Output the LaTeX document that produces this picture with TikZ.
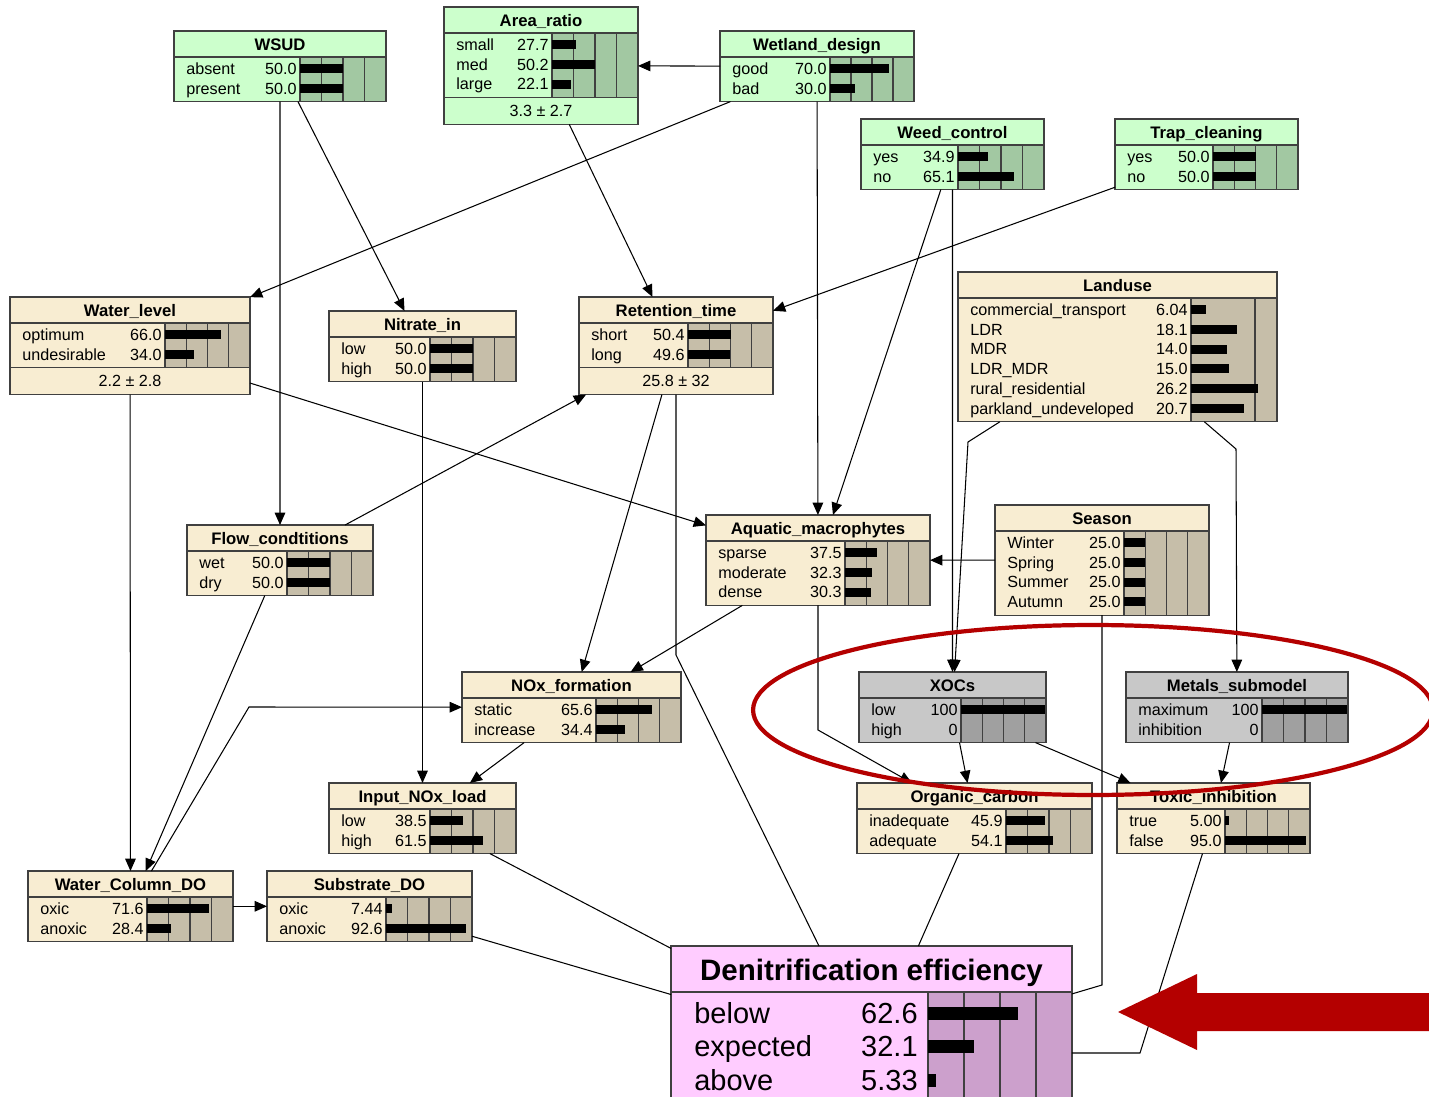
\documentclass[tikz,border=0pt]{standalone}
\usepackage{fontspec}
\setmainfont{Liberation Sans}
\usetikzlibrary{arrows.meta}

\definecolor{greenbody}{HTML}{CCFFCC}
\definecolor{greengrid}{HTML}{A2C8A2}
\definecolor{tanbody}{HTML}{F8EDD2}
\definecolor{tangrid}{HTML}{C6BEA9}
\definecolor{graybody}{HTML}{C8C8C8}
\definecolor{graygrid}{HTML}{A0A0A0}
\definecolor{pinkbody}{HTML}{FFCCFF}
\definecolor{pinkgrid}{HTML}{CCA0CC}
\definecolor{netred}{HTML}{B40000}

\def\bnfull{100}
% belief box: [mean]{name}{left}{top}{right}{bar left}{colour}{title}{states}
\newcommand{\bnbox}[9][]{%
  \foreach \sname/\sval [count=\sidx] in {#9} {\xdef\bnn{\sidx}}%
  \pgfmathsetmacro\bnsb{#4+31+\bnn*19.8}%
  \def\bnmean{#1}%
  \ifx\bnmean\empty\pgfmathsetmacro\bnbot{\bnsb}\else\pgfmathsetmacro\bnbot{\bnsb+27}\fi
  \pgfmathsetmacro\bnw{(#5-#3)*0.02}%
  \pgfmathsetmacro\bnh{(\bnbot-#4)*0.02}%
  \node[bnframe, fill=#7body, minimum width=\bnw cm, minimum height=\bnh cm] (#2) at (#3,#4) {};
  \node[bntitle] at ({(#3+#5)/2},#4+13.5) {#8};
  \fill[#7grid] (#6,#4+26) rectangle (#5,\bnsb);
  \foreach \k in {1,2,3} {%
    \pgfmathsetmacro\bnx{#6+\k*25/\bnfull*(#5-#6)}%
    \ifdim\bnx pt<#5pt \draw[bnline] (\bnx,#4+26) -- (\bnx,\bnsb);\fi
  }
  \draw[bnline] (#3,#4+26) -- (#5,#4+26) (#6,#4+26) -- (#6,\bnsb);
  \foreach \sname/\sval [count=\sidx] in {#9} {%
    \pgfmathsetmacro\bny{#4+37.5+(\sidx-1)*19.8}%
    \pgfmathsetmacro\bnbar{#6+min(\sval/\bnfull,1)*(#5-#6)}%
    \ifdim\sval pt>0pt \fill (#6,\bny-4.5) rectangle (\bnbar,\bny+4.5);\fi
    \node[bnstate, anchor=west] at (#3+12,\bny) {\sname};
    \node[bnstate, anchor=east] at (#6-3,\bny) {\sval};
  }
  \ifx\bnmean\empty\else
    \draw[bnline] (#3,\bnsb) -- (#5,\bnsb);
    \node[bnstate] at ({(#3+#5)/2},\bnsb+13.5) {#1};
  \fi
  \draw[bnline] (#2.north west) rectangle (#2.south east);
}

\begin{document}
\begin{tikzpicture}[
    x=0.02cm, y=-0.02cm,
    bnframe/.style={rectangle, draw=black!75, line width=0.7pt, anchor=north west, inner sep=0pt, outer sep=0pt},
    bnline/.style={draw=black!75, line width=0.7pt},
    bntitle/.style={font=\fontsize{9.5}{11}\selectfont\bfseries, inner sep=0pt, text height=6.8pt, text depth=0pt},
    bnstate/.style={font=\fontsize{9.2}{11}\selectfont, inner sep=0pt, text height=6.6pt, text depth=0pt},
    bigtitle/.style={font=\fontsize{16.8}{19}\selectfont\bfseries, inner sep=0pt, text height=12pt, text depth=0pt},
    bigstate/.style={font=\fontsize{16.5}{19}\selectfont, inner sep=0pt, text height=11.8pt, text depth=0pt},
    link/.style={-{Triangle[length=7pt,width=6pt]}, line width=0.6pt},
    wire/.style={line width=0.6pt}
  ]
  \useasboundingbox (0,0) rectangle (1429,1097);
  \clip (0,0) rectangle (1429,1097);
  \fill[white] (0,0) rectangle (1429,1097);

  % nodes
  \bnbox[3.3 ± 2.7]{arearatio}{444}{7}{638}{552}{green}{Area\_ratio}{small/27.7, med/50.2, large/22.1}
  \bnbox{wsud}{174}{31}{386}{300}{green}{WSUD}{absent/50.0, present/50.0}
  \bnbox{wetland}{720}{31}{914}{830}{green}{Wetland\_design}{good/70.0, bad/30.0}
  \bnbox{weed}{861}{119}{1044}{958}{green}{Weed\_control}{yes/34.9, no/65.1}
  \bnbox{trap}{1115}{119}{1298}{1213}{green}{Trap\_cleaning}{yes/50.0, no/50.0}
  \bnbox[2.2 ± 2.8]{waterlevel}{10}{297}{250}{165}{tan}{Water\_level}{optimum/66.0, undesirable/34.0}
  \bnbox{nitratein}{329}{311}{516}{430}{tan}{Nitrate\_in}{low/50.0, high/50.0}
  \bnbox[25.8 ± 32]{retention}{579}{297}{773}{688}{tan}{Retention\_time}{short/50.4, long/49.6}
  \begin{scope}
    \def\bnfull{33.6}
    \bnbox{landuse}{958}{272}{1277}{1191}{tan}{Landuse}{commercial\_transport/6.04, LDR/18.1, MDR/14.0, LDR\_MDR/15.0, rural\_residential/26.2, parkland\_undeveloped/20.7}
  \end{scope}
  \bnbox{flow}{187}{525}{373}{287}{tan}{Flow\_condtitions}{wet/50.0, dry/50.0}
  \bnbox{aquatic}{706}{515}{930}{845}{tan}{Aquatic\_macrophytes}{sparse/37.5, moderate/32.3, dense/30.3}
  \bnbox{season}{995}{505}{1209}{1124}{tan}{Season}{Winter/25.0, Spring/25.0, Summer/25.0, Autumn/25.0}
  \bnbox{noxform}{462}{672}{681}{596}{tan}{NOx\_formation}{static/65.6, increase/34.4}
  \bnbox{xocs}{859}{672}{1046}{961}{gray}{XOCs}{low/100, high/0}
  \bnbox{metals}{1126}{672}{1348}{1262}{gray}{Metals\_submodel}{maximum/100, inhibition/0}
  \bnbox{organic}{857}{783}{1092}{1006}{tan}{Organic\_carbon}{inadequate/45.9, adequate/54.1}
  \bnbox{toxic}{1117}{783}{1310}{1225}{tan}{Toxic\_inhibition}{true/5.00, false/95.0}
  \bnbox{inputnox}{329}{783}{516}{430}{tan}{Input\_NOx\_load}{low/38.5, high/61.5}
  \bnbox{wcdo}{28}{871}{233}{147}{tan}{Water\_Column\_DO}{oxic/71.6, anoxic/28.4}
  \bnbox{subdo}{267}{871}{472}{386}{tan}{Substrate\_DO}{oxic/7.44, anoxic/92.6}

  % target node
  \node[bnframe, fill=pinkbody, minimum width=8.02cm, minimum height=4.28cm] (denit) at (671,946) {};
  \node[bigtitle] at (871.5,970) {Denitrification efficiency};
  \fill[pinkgrid] (928,992) rectangle (1072,1160);
  \foreach \x in {964,1000,1036} \draw[bnline] (\x,992) -- (\x,1160);
  \draw[bnline] (671,992) -- (1072,992) (928,992) -- (928,1160);
  \foreach \sname/\sval [count=\sidx] in {below/62.6, expected/32.1, above/5.33} {
    \pgfmathsetmacro\bny{1013+(\sidx-1)*33.5}
    \fill (928,\bny-6.5) rectangle ({928+\sval*1.44},\bny+6.5);
    \node[bigstate, anchor=west] at (694,\bny) {\sname};
    \node[bigstate, anchor=east] at (918,\bny) {\sval};
  }
  \draw[bnline, line width=1pt] (denit.north west) rectangle (denit.south east);

  % bends
  \coordinate (rtbend) at (676,655);
  \coordinate (amsbend) at (818,730);
  \coordinate (seabend) at (1102,985);
  \coordinate (lumbend) at (1236,449);
  \coordinate (luxbend) at (968,442);
  \coordinate (wcbend) at (249,707);
  \coordinate (tibend) at (1140,1053);

  % links
  \draw[link] (wetland) -- (arearatio);
  \draw[link] (wsud) -- (flow);
  \draw[link] (wsud) -- (nitratein);
  \draw[link] (wetland) -- (waterlevel);
  \draw[link] (arearatio) -- (retention);
  \draw[link] (wetland) -- (aquatic);
  \draw[link] (weed) -- (aquatic);
  \draw[link] (weed) -- (xocs);
  \draw[link] (trap) -- (retention);
  \draw[link] (waterlevel) -- (wcdo);
  \draw[link] (waterlevel) -- (aquatic);
  \draw[link] (flow) -- (retention);
  \draw[link] (flow) -- (wcdo);
  \draw[link] (retention) -- (noxform);
  \draw[link] (aquatic) -- (noxform);
  \draw[link] (aquatic) -- (amsbend) -- (organic);
  \draw[link] (season) -- (aquatic);
  \draw[link] (landuse) -- (lumbend) -- (metals);
  \draw[link] (landuse) -- (luxbend) -- (xocs);
  \draw[link] (xocs) -- (organic);
  \draw[link] (xocs) -- (toxic);
  \draw[link] (metals) -- (toxic);
  \draw[link] (nitratein) -- (inputnox);
  \draw[link] (noxform) -- (inputnox);
  \draw[link] (wcdo) -- (wcbend) -- (noxform);
  \draw[link] (wcdo) -- (subdo);
  \draw[wire] (retention) -- (rtbend) -- (denit);
  \draw[wire] (season) -- (seabend) -- (denit);
  \draw[wire] (inputnox) -- (denit);
  \draw[wire] (subdo) -- (denit);
  \draw[wire] (organic) -- (denit);
  \draw[wire] (toxic) -- (tibend) -- (denit);

  % highlight
  \draw[netred, line width=2.4pt] (1093,710) ellipse [x radius=6.8cm, y radius=1.7cm];
  \fill[netred] (1118,1012) -- (1197,974) -- (1197,993) -- (1440,993) -- (1440,1031)
    -- (1197,1031) -- (1197,1050) -- cycle;
\end{tikzpicture}
\end{document}
